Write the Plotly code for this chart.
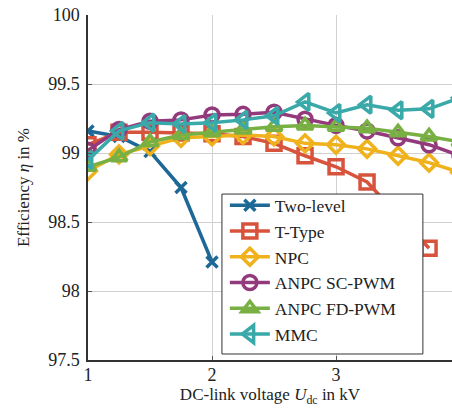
import plotly.graph_objects as go

x_all = [1.0, 1.25, 1.5, 1.75, 2.0, 2.25, 2.5, 2.75, 3.0, 3.25, 3.5, 3.75, 4.0]

two_level = [99.16, 99.12, 99.01, 98.75, 98.21]
t_type = [99.06, 99.15, 99.15, 99.145, 99.14, 99.12, 99.07, 98.98, 98.90, 98.79, 98.55, 98.31]
npc = [98.87, 98.99, 99.05, 99.11, 99.12, 99.13, 99.12, 99.07, 99.06, 99.03, 98.98, 98.93, 98.86]
anpc_sc = [99.02, 99.17, 99.23, 99.24, 99.275, 99.28, 99.295, 99.245, 99.20, 99.16, 99.11, 99.06, 98.98]
anpc_fd = [98.90, 98.97, 99.08, 99.13, 99.15, 99.17, 99.19, 99.20, 99.19, 99.18, 99.15, 99.12, 99.08]
mmc = [98.95, 99.16, 99.22, 99.21, 99.22, 99.24, 99.27, 99.37, 99.29, 99.35, 99.31, 99.32, 99.40]

names = ["Two-level", "T-Type", "NPC", "ANPC SC-PWM", "ANPC FD-PWM", "MMC"]
series = [two_level, t_type, npc, anpc_sc, anpc_fd, mmc]
colors = ["#1d6897", "#d8533c", "#f0b21c", "#933a7c", "#78b043", "#3aa9a9"]
symbols = ["x-thin-open", "square-open", "diamond-open", "circle-open", "triangle-up-open", "triangle-left-open"]
sizes = [11, 14, 13, 14, 14, 15]

fig = go.Figure()
for name, ys, c, s, sz in zip(names, series, colors, symbols, sizes):
    fig.add_trace(go.Scatter(
        x=x_all[:len(ys)], y=ys, name=name, mode="lines+markers",
        line=dict(color=c, width=3.5),
        marker=dict(symbol=s, size=sz, color=c, line=dict(color=c, width=3.5)),
    ))

# legend frame (drawn as a shape so its size matches the reference)
fig.add_shape(type="rect", xref="paper", yref="paper",
              x0=0.368, x1=0.920, y0=0.0174, y1=0.481,
              fillcolor="white", line=dict(color="#333", width=1), layer="above")

font = "Liberation Serif"
fig.update_layout(
    width=452, height=410,
    margin=dict(l=88, r=0, t=15, b=50),
    paper_bgcolor="white", plot_bgcolor="white",
    font=dict(family=font, size=18, color="#222"),
    showlegend=True,
    legend=dict(x=0.376, y=0.022, xanchor="left", yanchor="bottom",
                bgcolor="rgba(0,0,0,0)", borderwidth=0,
                font=dict(family=font, size=17.5), tracegroupgap=0,
                itemwidth=40),
)
fig.update_xaxes(
    range=[1, 3.935], tickvals=[1, 2, 3, 4], ticktext=["1", "2", "3", "4"],
    showgrid=True, gridcolor="#d0d0d0", gridwidth=1,
    showline=True, linecolor="#333", linewidth=1.5,
    ticks="inside", ticklen=4, tickcolor="#555",
    zeroline=False, ticklabelstandoff=-2, automargin=False,
    ticklabeloverflow="allow",
    tickfont=dict(family=font, size=18),
    title=dict(text="DC-link voltage <i>U</i><sub>dc</sub> in kV", standoff=0,
               font=dict(family=font, size=17)),
)
fig.update_yaxes(
    range=[97.5, 100], tickvals=[97.5, 98, 98.5, 99, 99.5, 100],
    ticktext=["97.5", "98", "98.5", "99", "99.5", "100"],
    showgrid=True, gridcolor="#d0d0d0", gridwidth=1,
    showline=True, linecolor="#333", linewidth=1.5,
    ticks="inside", ticklen=4, tickcolor="#555",
    zeroline=False, ticklabelstandoff=3, automargin=False,
    ticklabeloverflow="allow",
    tickfont=dict(family=font, size=18),
    title=dict(text="Efficiency <i>η</i> in %", standoff=14,
               font=dict(family=font, size=17)),
)
fig.write_html("out.html", config={"displayModeBar": False},
               post_script="document.body.style.margin='0';document.body.style.padding='0';")
